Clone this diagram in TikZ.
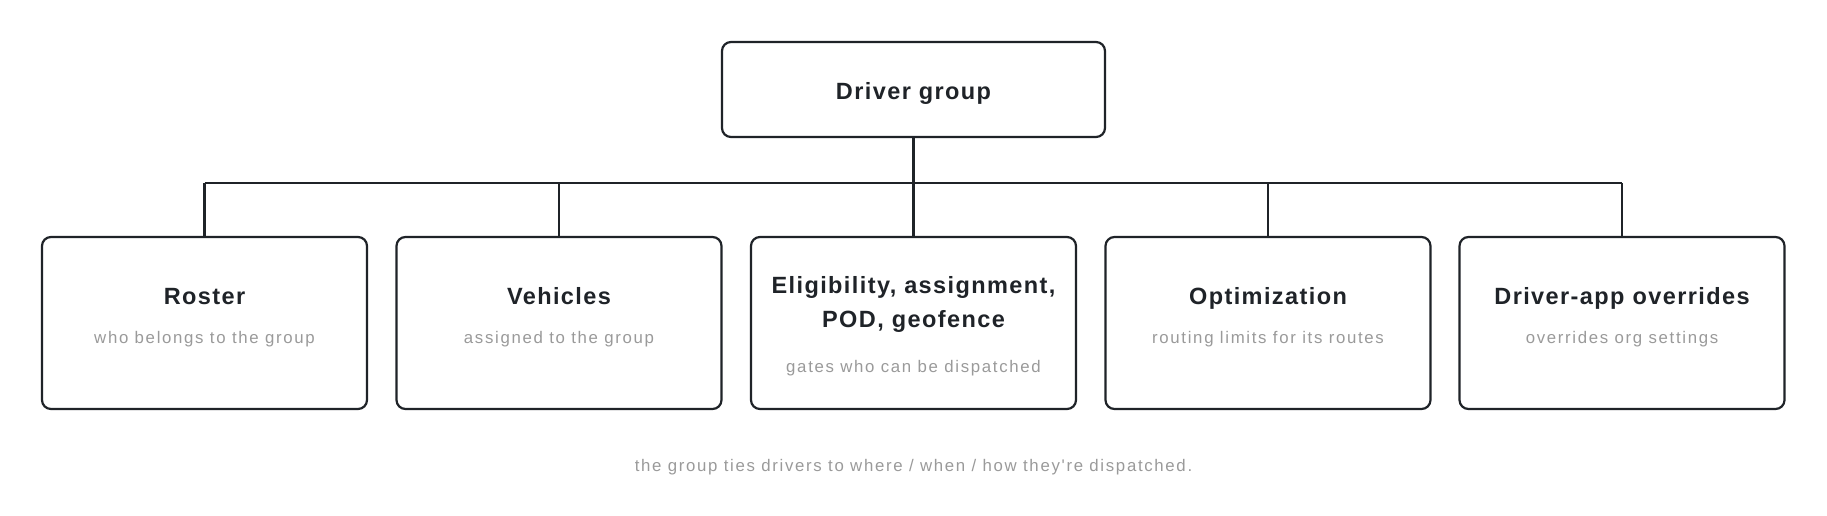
\documentclass[tikz,border=0pt]{standalone}
\usepackage{fontspec}
\setmainfont{Liberation Sans}
\newfontfamily\titlefont[LetterSpace=6]{Liberation Sans}
\newfontfamily\subfont[LetterSpace=10]{Liberation Sans}
\definecolor{ink}{HTML}{1F2328}
\definecolor{muted}{HTML}{9A9A9A}
\begin{document}
\begin{tikzpicture}[x=1pt,y=-1pt,
  box/.style={draw=ink, line width=2.2pt, rounded corners=9pt, fill=white, inner sep=0pt},
  ttl/.style={anchor=base, text=ink, font=\titlefont\fontsize{23.5}{26}\selectfont\bfseries, inner sep=0pt, align=center},
  sub/.style={anchor=base, text=muted, font=\subfont\fontsize{16.8}{18}\selectfont, inner sep=0pt},
  link/.style={draw=ink, line width=2.2pt}]
\useasboundingbox (0,0) rectangle (1827,515);
% top
\node[box, minimum width=383pt, minimum height=95pt] (top) at (913.5,89.5) {};
\node[ttl] (topt) at (913.5,99) {Driver group};
% bottom boxes
\foreach \n/\x in {r/204.5, v/559, e/913.5, o/1268, d/1622}{
  \node[box, minimum width=325pt, minimum height=172pt] (\n) at (\x,323) {};
}
\node[ttl] (rt) at (204.5,304) {Roster};
\node[sub] (rs) at (204.5,343) {who belongs to the group};
\node[ttl] (vt) at (559,304) {Vehicles};
\node[sub] (vs) at (559,343) {assigned to the group};
\node[ttl] (et1) at (913.5,293) {Eligibility, assignment,};
\node[ttl] (et2) at (913.5,327) {POD, geofence};
\node[sub] (es) at (913.5,372) {gates who can be dispatched};
\node[ttl] (ot) at (1268,304) {Optimization};
\node[sub] (os) at (1268,343) {routing limits for its routes};
\node[ttl] (dt) at (1622,304) {Driver-app overrides};
\node[sub] (ds) at (1622,343) {overrides org settings};
% connectors
\coordinate (jn) at (913.5,183);
\draw[link] (top.south) -- (jn);
\draw[link] (r.north |- jn) -- (d.north |- jn);
\foreach \n in {r,v,o,d}{
  \draw[link] (\n.north |- jn) -- (\n.north);
}
\draw[link] (jn) -- (e.north);
% caption
\node[sub] (cap) at (913.5,471) {the group ties drivers to where / when / how they're dispatched.};
\end{tikzpicture}
\end{document}
